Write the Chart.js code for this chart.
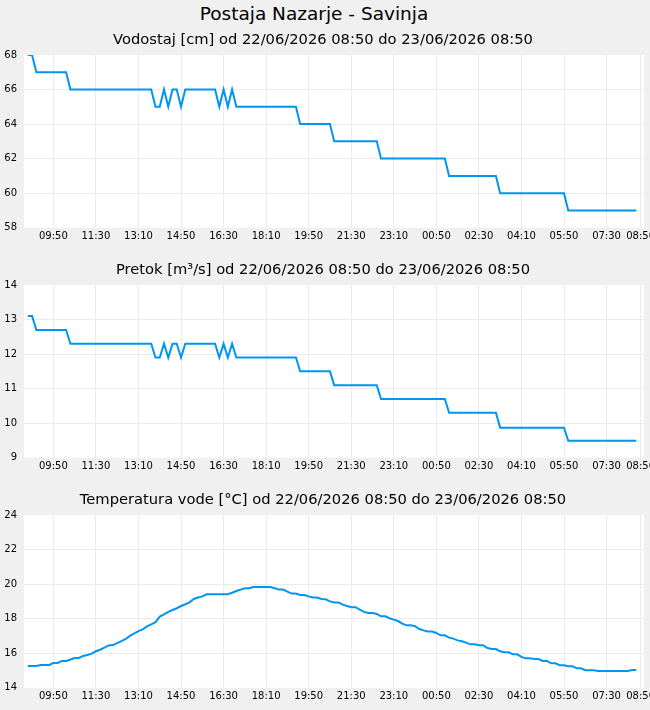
<!DOCTYPE html>
<html>
<head>
<meta charset="utf-8">
<title>Postaja Nazarje - Savinja</title>
<script src="https://cdn.jsdelivr.net/npm/chart.js@4.4.1/dist/chart.umd.min.js"></script>
<style>
  body { margin: 0; background: #f0f0f0; font-family: "DejaVu Sans", sans-serif; }
  #wrap { position: relative; width: 650px; height: 710px; }
  #naslov { position: absolute; top: 3px; left: 0; width: 628px; text-align: center; font-size: 18.5px; color: #000; }
  .panel { position: absolute; left: 0; width: 650px; height: 230px; }
</style>
</head>
<body>
<div id="wrap">
  <div id="naslov">Postaja Nazarje - Savinja</div>
  <div class="panel" style="top:25px"><canvas id="vodostajChart"></canvas></div>
  <div class="panel" style="top:255px"><canvas id="pretokChart"></canvas></div>
  <div class="panel" style="top:485px"><canvas id="temperaturaChart"></canvas></div>
</div>
<script>
// measurements every 10 minutes, starting 22/06/2026 08:50
const korakMin = 10;

// tick positions (minutes from start) and their labels
const tickMinutes = [60, 160, 260, 360, 460, 560, 660, 760, 860, 960, 1060, 1160, 1260, 1360, 1440];
const tickLabels = ["09:50", "11:30", "13:10", "14:50", "16:30", "18:10", "19:50", "21:30",
                    "23:10", "00:50", "02:30", "04:10", "05:50", "07:30", "08:50"];

// Vodostaj [cm]
const vodostaj = [
  68, 68, 67, 67, 67, 67, 67, 67, 67, 67, 66, 66,
  66, 66, 66, 66, 66, 66, 66, 66, 66, 66, 66, 66,
  66, 66, 66, 66, 66, 66, 65, 65, 66, 65, 66, 66,
  65, 66, 66, 66, 66, 66, 66, 66, 66, 65, 66, 65,
  66, 65, 65, 65, 65, 65, 65, 65, 65, 65, 65, 65,
  65, 65, 65, 65, 64, 64, 64, 64, 64, 64, 64, 64,
  63, 63, 63, 63, 63, 63, 63, 63, 63, 63, 63, 62,
  62, 62, 62, 62, 62, 62, 62, 62, 62, 62, 62, 62,
  62, 62, 62, 61, 61, 61, 61, 61, 61, 61, 61, 61,
  61, 61, 61, 60, 60, 60, 60, 60, 60, 60, 60, 60,
  60, 60, 60, 60, 60, 60, 60, 59, 59, 59, 59, 59,
  59, 59, 59, 59, 59, 59, 59, 59, 59, 59, 59, 59
];

// Pretok [m3/s]
const pretok = [
  13.1, 13.1, 12.7, 12.7, 12.7, 12.7, 12.7, 12.7, 12.7, 12.7, 12.3, 12.3,
  12.3, 12.3, 12.3, 12.3, 12.3, 12.3, 12.3, 12.3, 12.3, 12.3, 12.3, 12.3,
  12.3, 12.3, 12.3, 12.3, 12.3, 12.3, 11.9, 11.9, 12.3, 11.9, 12.3, 12.3,
  11.9, 12.3, 12.3, 12.3, 12.3, 12.3, 12.3, 12.3, 12.3, 11.9, 12.3, 11.9,
  12.3, 11.9, 11.9, 11.9, 11.9, 11.9, 11.9, 11.9, 11.9, 11.9, 11.9, 11.9,
  11.9, 11.9, 11.9, 11.9, 11.5, 11.5, 11.5, 11.5, 11.5, 11.5, 11.5, 11.5,
  11.1, 11.1, 11.1, 11.1, 11.1, 11.1, 11.1, 11.1, 11.1, 11.1, 11.1, 10.7,
  10.7, 10.7, 10.7, 10.7, 10.7, 10.7, 10.7, 10.7, 10.7, 10.7, 10.7, 10.7,
  10.7, 10.7, 10.7, 10.3, 10.3, 10.3, 10.3, 10.3, 10.3, 10.3, 10.3, 10.3,
  10.3, 10.3, 10.3, 9.87, 9.87, 9.87, 9.87, 9.87, 9.87, 9.87, 9.87, 9.87,
  9.87, 9.87, 9.87, 9.87, 9.87, 9.87, 9.87, 9.49, 9.49, 9.49, 9.49, 9.49,
  9.49, 9.49, 9.49, 9.49, 9.49, 9.49, 9.49, 9.49, 9.49, 9.49, 9.49, 9.49
];

// Temperatura vode [°C]
const temperatura = [
  15.26, 15.26, 15.26, 15.32, 15.32, 15.32, 15.43, 15.43, 15.55, 15.55, 15.63, 15.72,
  15.72, 15.84, 15.89, 15.97, 16.11, 16.2, 16.32, 16.45, 16.47, 16.58, 16.7, 16.82,
  17.0, 17.15, 17.28, 17.38, 17.55, 17.67, 17.79, 18.12, 18.25, 18.39, 18.5, 18.6,
  18.73, 18.83, 18.94, 19.14, 19.22, 19.29, 19.41, 19.41, 19.41, 19.41, 19.41, 19.41,
  19.5, 19.6, 19.68, 19.76, 19.76, 19.83, 19.83, 19.83, 19.83, 19.83, 19.76, 19.68,
  19.68, 19.56, 19.45, 19.45, 19.37, 19.37, 19.29, 19.22, 19.22, 19.14, 19.12, 19.0,
  18.94, 18.94, 18.81, 18.73, 18.66, 18.66, 18.52, 18.39, 18.33, 18.33, 18.27, 18.13,
  18.13, 18.02, 17.94, 17.86, 17.71, 17.61, 17.61, 17.56, 17.4, 17.32, 17.25, 17.25,
  17.17, 17.03, 17.03, 16.9, 16.84, 16.74, 16.69, 16.61, 16.51, 16.51, 16.46, 16.46,
  16.3, 16.24, 16.24, 16.11, 16.05, 16.05, 15.93, 15.93, 15.78, 15.7, 15.7, 15.66,
  15.66, 15.55, 15.55, 15.41, 15.41, 15.3, 15.3, 15.24, 15.24, 15.12, 15.12, 15.01,
  15.01, 15.01, 14.97, 14.97, 14.97, 14.97, 14.97, 14.97, 14.97, 14.97, 15.03, 15.03
];

// white plot area + panel title
const panelTitle = {
  id: "panelTitle",
  beforeDraw(chart, args, opts) {
    let ctx = chart.ctx;
    let a = chart.chartArea;
    ctx.save();
    ctx.fillStyle = "#ffffff";
    ctx.fillRect(a.left, a.top, a.right - a.left, a.bottom - a.top);
    ctx.fillStyle = "#000000";
    ctx.font = '14.7px "DejaVu Sans"';
    ctx.textAlign = "center";
    ctx.textBaseline = "middle";
    ctx.fillText(opts.text, 323, 15);
    ctx.restore();
  }
};

function drawPanel(id, title, values, yMin, yMax, yStep) {
  let font = { family: '"DejaVu Sans"', size: 10 };
  let gridColor = c => (c.index === 0 || c.index === c.scale.ticks.length - 1) ? "rgba(0,0,0,0)" : "#ebebeb";

  new Chart(document.getElementById(id), {
    type: "line",
    data: {
      datasets: [{
        data: values.map((v, i) => ({ x: i * korakMin, y: v })),
        borderColor: "#0096f0",
        borderWidth: 2,
        pointRadius: 0,
        tension: 0,
        fill: false
      }]
    },
    options: {
      responsive: true,
      maintainAspectRatio: false,
      animation: false,
      layout: { padding: { top: 30, right: 6, bottom: 0, left: 0 } },
      plugins: {
        legend: { display: false },
        tooltip: { enabled: false },
        panelTitle: { text: title }
      },
      scales: {
        x: {
          type: "linear",
          min: -9,
          max: 1448,
          afterBuildTicks: s => { s.ticks = tickMinutes.map(v => ({ value: v })); },
          afterFit: s => { s.height = 27.3; s.paddingLeft = 0; s.paddingRight = 0; },
          ticks: {
            autoSkip: false,
            maxRotation: 0,
            padding: 3,
            color: "#000",
            font: font,
            callback: (v, i) => tickLabels[i]
          },
          grid: { color: "#ebebeb", drawTicks: false },
          border: { display: false }
        },
        y: {
          min: yMin,
          max: yMax,
          afterFit: s => { s.width = 24; },
          ticks: { stepSize: yStep, padding: 7, color: "#000", font: font },
          grid: { color: gridColor, drawTicks: false },
          border: { display: false }
        }
      }
    },
    plugins: [panelTitle]
  });
}

drawPanel("vodostajChart", "Vodostaj [cm] od 22/06/2026 08:50 do 23/06/2026 08:50", vodostaj, 58, 68, 2);
drawPanel("pretokChart", "Pretok [m³/s] od 22/06/2026 08:50 do 23/06/2026 08:50", pretok, 9, 14, 1);
drawPanel("temperaturaChart", "Temperatura vode [°C] od 22/06/2026 08:50 do 23/06/2026 08:50", temperatura, 14, 24, 2);
</script>
</body>
</html>
